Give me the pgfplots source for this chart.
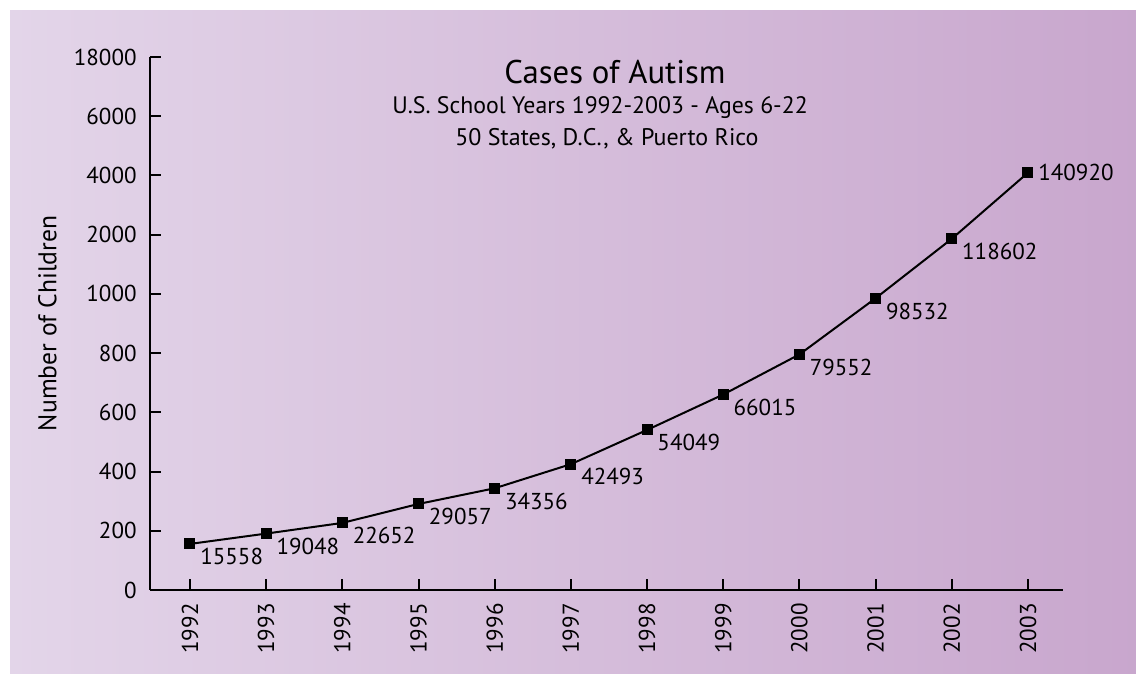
\documentclass[border=0pt]{standalone}
\usepackage{fontspec}
\setmainfont{PT Sans}
\usepackage{pgfplots}
\pgfplotsset{compat=1.18}
\usepackage{pgfplotstable}
\definecolor{bgL}{RGB}{227,213,233}
\definecolor{bgR}{RGB}{200,166,205}
\pgfplotstableread{
year value
1992 15558
1993 19048
1994 22652
1995 29057
1996 34356
1997 42493
1998 54049
1999 66015
2000 79552
2001 98532
2002 118602
2003 140920
}\data
\begin{document}
\begin{tikzpicture}
\path[use as bounding box] (0,0) rectangle (568pt,337pt);
\shade[left color=bgL, right color=bgR] (5pt,-6pt) rectangle (574pt,331.5pt);
\begin{axis}[
  at={(75pt,42pt)}, anchor=south west,
  scale only axis, width=456.5pt, height=266.5pt,
  xmin=1991.475, xmax=2003.46, ymin=0, ymax=180000,
  axis lines=left,
  axis line style={-, line width=1pt, black},
  tick align=inside, major tick length=5.5pt,
  tick style={line width=1pt, black},
  xtick={1992,1993,...,2003},
  ytick={0,20000,40000,60000,80000,100000,120000,140000,160000,180000},
  yticklabels={0,200,400,600,800,1000,2000,4000,6000,18000},
  /pgf/number format/1000 sep={},
  /pgf/number format/assume math mode=true,
  ticklabel style={font=\fontsize{11.5}{13}\selectfont, inner sep=0pt},
  xticklabel style={rotate=90, anchor=east},
  yticklabel style={anchor=east},
  xticklabel shift=6.5pt,
  yticklabel shift=6.5pt,
  scaled y ticks=false,
  every axis y label/.style={at={([xshift=-46.5pt]axis description cs:0,0.5)}, rotate=90, anchor=south, inner sep=0pt, font=\fontsize{12.8}{15}\selectfont},
  ylabel={Number of Children},
  clip=false,
]
\addplot[black, line width=1pt, mark=square*, mark size=2.25pt, mark options={solid, fill=black}] table[x=year, y=value] {\data};
\addplot[draw=none, mark=none, nodes near coords, point meta=y,
  nodes near coords style={font=\fontsize{11.5}{13}\selectfont, anchor=north west, inner sep=0pt, xshift=5pt, yshift=-2pt, /pgf/number format/.cd, fixed, precision=0, 1000 sep={}, assume math mode=true},
  skip coords between index={11}{12}] table[x=year, y=value] {\data};
\addplot[draw=none, mark=none, nodes near coords, point meta=y,
  nodes near coords style={font=\fontsize{11.5}{13}\selectfont, anchor=west, inner sep=0pt, xshift=5pt, /pgf/number format/.cd, fixed, precision=0, 1000 sep={}, assume math mode=true},
  skip coords between index={0}{11}] table[x=year, y=value] {\data};
\end{axis}
\node[anchor=base, inner sep=0pt, font=\fontsize{16.4}{19}\selectfont] at (307.5pt,295pt) {Cases of Autism};
\node[anchor=base, inner sep=0pt, font=\fontsize{11.9}{14}\selectfont] at (300pt,280pt) {U.S. School Years 1992-2003 - Ages 6-22};
\node[anchor=base, inner sep=0pt, font=\fontsize{12}{14}\selectfont] at (303.5pt,264pt) {50 States, D.C., \& Puerto Rico};
\end{tikzpicture}
\end{document}
